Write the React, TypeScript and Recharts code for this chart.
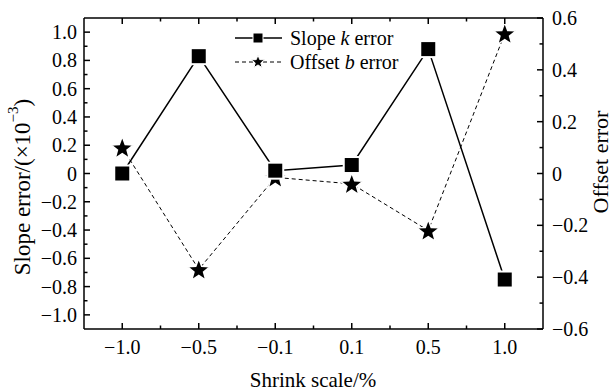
import React from "react";
import { ComposedChart, Line, XAxis, YAxis } from "recharts";

// shrink scale categories (x), slope error (left axis, x10^-3) and offset error (right axis)
const CATEGORIES = ["\u22121.0", "\u22120.5", "\u22120.1", "0.1", "0.5", "1.0"];
const SLOPE_K = [0.0, 0.83, 0.02, 0.06, 0.88, -0.75];
const OFFSET_B = [0.1, -0.37, -0.015, -0.04, -0.22, 0.54];

const X_TICKS = [0, 0.5, 1, 1.5, 2, 2.5, 3, 3.5, 4, 4.5, 5];
const LEFT_TICKS = [
  -1.0, -0.9, -0.8, -0.7, -0.6, -0.5, -0.4, -0.3, -0.2, -0.1, 0, 0.1, 0.2, 0.3, 0.4,
  0.5, 0.6, 0.7, 0.8, 0.9, 1.0,
];
const RIGHT_TICKS = [-0.6, -0.5, -0.4, -0.3, -0.2, -0.1, 0, 0.1, 0.2, 0.3, 0.4, 0.5, 0.6];

const data = CATEGORIES.map((c, i) => ({
  idx: i,
  label: c,
  slope: SLOPE_K[i],
  offset: OFFSET_B[i],
}));

const W = 614;
const H = 392;
const FONT = "Liberation Serif, Times New Roman, Times, serif";
const INK = "#000";

const isMajor = (v: number, step: number) => Math.abs(Math.round(v / step) * step - v) < 1e-6;
const fmt = (v: number) => {
  if (Math.abs(v) < 1e-9) return "0";
  const s = Math.abs(v).toFixed(1);
  return v < 0 ? "\u2212" + s : s;
};

function starPath(cx: number, cy: number, r: number) {
  const inner = r * 0.42;
  let d = "";
  for (let i = 0; i < 10; i++) {
    const rad = i % 2 === 0 ? r : inner;
    const a = -Math.PI / 2 + (i * Math.PI) / 5;
    d += (i === 0 ? "M" : "L") + (cx + rad * Math.cos(a)).toFixed(2) + "," + (cy + rad * Math.sin(a)).toFixed(2);
  }
  return d + "Z";
}

function SquareDot({ cx, cy }: any) {
  if (cx == null || cy == null) return null;
  return <rect x={cx - 8} y={cy - 8} width={16} height={16} fill={INK} stroke="#fff" strokeWidth={2} />;
}

function StarDot({ cx, cy }: any) {
  if (cx == null || cy == null) return null;
  return <path d={starPath(cx, cy + 1, 12)} fill={INK} stroke="#fff" strokeWidth={1.5} />;
}

function LeftTick({ x, y, payload }: any) {
  const major = isMajor(payload.value, 0.2);
  const ax = x + 7;
  return (
    <g>
      <line x1={ax} x2={ax + (major ? 6 : 3.5)} y1={y} y2={y} stroke={INK} strokeWidth={1.5} />
      {major && (
        <text x={x} y={y} dy="0.35em" textAnchor="end" fontSize={20} fontFamily={FONT} fill={INK}>
          {fmt(payload.value)}
        </text>
      )}
    </g>
  );
}

function RightTick({ x, y, payload }: any) {
  const major = isMajor(payload.value, 0.2);
  const ax = x - 9;
  return (
    <g>
      <line x1={ax} x2={ax - (major ? 6 : 3.5)} y1={y} y2={y} stroke={INK} strokeWidth={1.5} />
      {major && (
        <text x={x} y={y} dy="0.35em" textAnchor="start" fontSize={20} fontFamily={FONT} fill={INK}>
          {fmt(payload.value)}
        </text>
      )}
    </g>
  );
}

function BottomTick({ x, y, payload }: any) {
  const major = Number.isInteger(payload.value);
  const ay = y - 8;
  return (
    <g>
      <line x1={x} x2={x} y1={ay} y2={ay - (major ? 6 : 3.5)} stroke={INK} strokeWidth={1.5} />
      {major && (
        <text x={x} y={y} dy="0.85em" textAnchor="middle" fontSize={20} fontFamily={FONT} fill={INK}>
          {CATEGORIES[payload.value]}
        </text>
      )}
    </g>
  );
}

function TopTick({ x, y, payload }: any) {
  const major = Number.isInteger(payload.value);
  const ay = y + 2;
  return <line x1={x} x2={x} y1={ay} y2={ay + (major ? 6 : 3.5)} stroke={INK} strokeWidth={1.5} />;
}

function LeftTitle() {
  const cx = 22;
  const cy = 187;
  return (
    <text
      x={cx}
      y={cy}
      transform={`rotate(-90 ${cx} ${cy})`}
      textAnchor="middle"
      dominantBaseline="central"
      fontSize={23}
      fontFamily={FONT}
      fill={INK}
    >
      Slope error/(×10
      <tspan dy={-9} fontSize={15}>
        {"\u22123"}
      </tspan>
      <tspan dy={9}>)</tspan>
    </text>
  );
}

function RightTitle() {
  const cx = W - 14;
  const cy = 162;
  return (
    <text
      x={cx}
      y={cy}
      transform={`rotate(-90 ${cx} ${cy})`}
      textAnchor="middle"
      dominantBaseline="central"
      fontSize={22}
      fontFamily={FONT}
      fill={INK}
    >
      Offset error
    </text>
  );
}

function BottomTitle() {
  return (
    <text x={313} y={H - 5} textAnchor="middle" fontSize={21} fontFamily={FONT} fill={INK}>
      Shrink scale/%
    </text>
  );
}

function LegendBox() {
  const row = { display: "flex", alignItems: "center", height: 24 } as const;
  return (
    <div
      style={{
        position: "absolute",
        left: 232,
        top: 26,
        fontFamily: FONT,
        fontSize: 20,
        color: INK,
        lineHeight: "24px",
      }}
    >
      <div style={row}>
        <svg width={58} height={20}>
          <line x1={3} x2={50} y1={10} y2={10} stroke={INK} strokeWidth={1.5} />
          <rect x={21} y={5} width={10} height={10} fill={INK} stroke="#fff" strokeWidth={1} />
        </svg>
        <span>
          Slope <i>k</i> error
        </span>
      </div>
      <div style={row}>
        <svg width={58} height={20}>
          <line x1={3} x2={50} y1={10} y2={10} stroke={INK} strokeWidth={1} strokeDasharray="4 3" />
          <path d={starPath(26, 10, 7)} fill={INK} stroke="#fff" strokeWidth={1} />
        </svg>
        <span>
          Offset <i>b</i> error
        </span>
      </div>
    </div>
  );
}

export default function App() {
  return (
    <div style={{ position: "absolute", left: 0, top: 0, width: W, height: H, background: "#fff" }}>
      <ComposedChart width={W} height={H} data={data} margin={{ top: 0, right: 0, bottom: 0, left: 0 }}>
        <XAxis
          xAxisId="top"
          orientation="top"
          dataKey="idx"
          type="number"
          domain={[-0.5, 5.5]}
          ticks={X_TICKS}
          height={18}
          tickSize={0}
          tickMargin={2}
          axisLine={{ stroke: INK, strokeWidth: 1.5 }}
          tickLine={false}
          tick={<TopTick />}
          interval={0}
        />
        <XAxis
          dataKey="idx"
          type="number"
          domain={[-0.5, 5.5]}
          ticks={X_TICKS}
          height={63}
          tickSize={0}
          tickMargin={8}
          axisLine={{ stroke: INK, strokeWidth: 1.5 }}
          tickLine={false}
          tick={<BottomTick />}
          interval={0}
          label={<BottomTitle />}
        />
        <YAxis
          yAxisId="left"
          domain={[-1.1, 1.1]}
          ticks={LEFT_TICKS}
          width={84}
          tickSize={0}
          tickMargin={7}
          axisLine={{ stroke: INK, strokeWidth: 1.5 }}
          tickLine={false}
          tick={<LeftTick />}
          interval={0}
          label={<LeftTitle />}
        />
        <YAxis
          yAxisId="right"
          orientation="right"
          domain={[-0.6, 0.6]}
          ticks={RIGHT_TICKS}
          width={71}
          tickSize={0}
          tickMargin={9}
          axisLine={{ stroke: INK, strokeWidth: 1.5 }}
          tickLine={false}
          tick={<RightTick />}
          interval={0}
          label={<RightTitle />}
        />
        <Line
          yAxisId="right"
          dataKey="offset"
          stroke={INK}
          strokeWidth={1}
          strokeDasharray="4 3"
          dot={<StarDot />}
          activeDot={false}
          isAnimationActive={false}
        />
        <Line
          yAxisId="left"
          dataKey="slope"
          stroke={INK}
          strokeWidth={1.5}
          dot={<SquareDot />}
          activeDot={false}
          isAnimationActive={false}
        />
      </ComposedChart>
      <LegendBox />
    </div>
  );
}
